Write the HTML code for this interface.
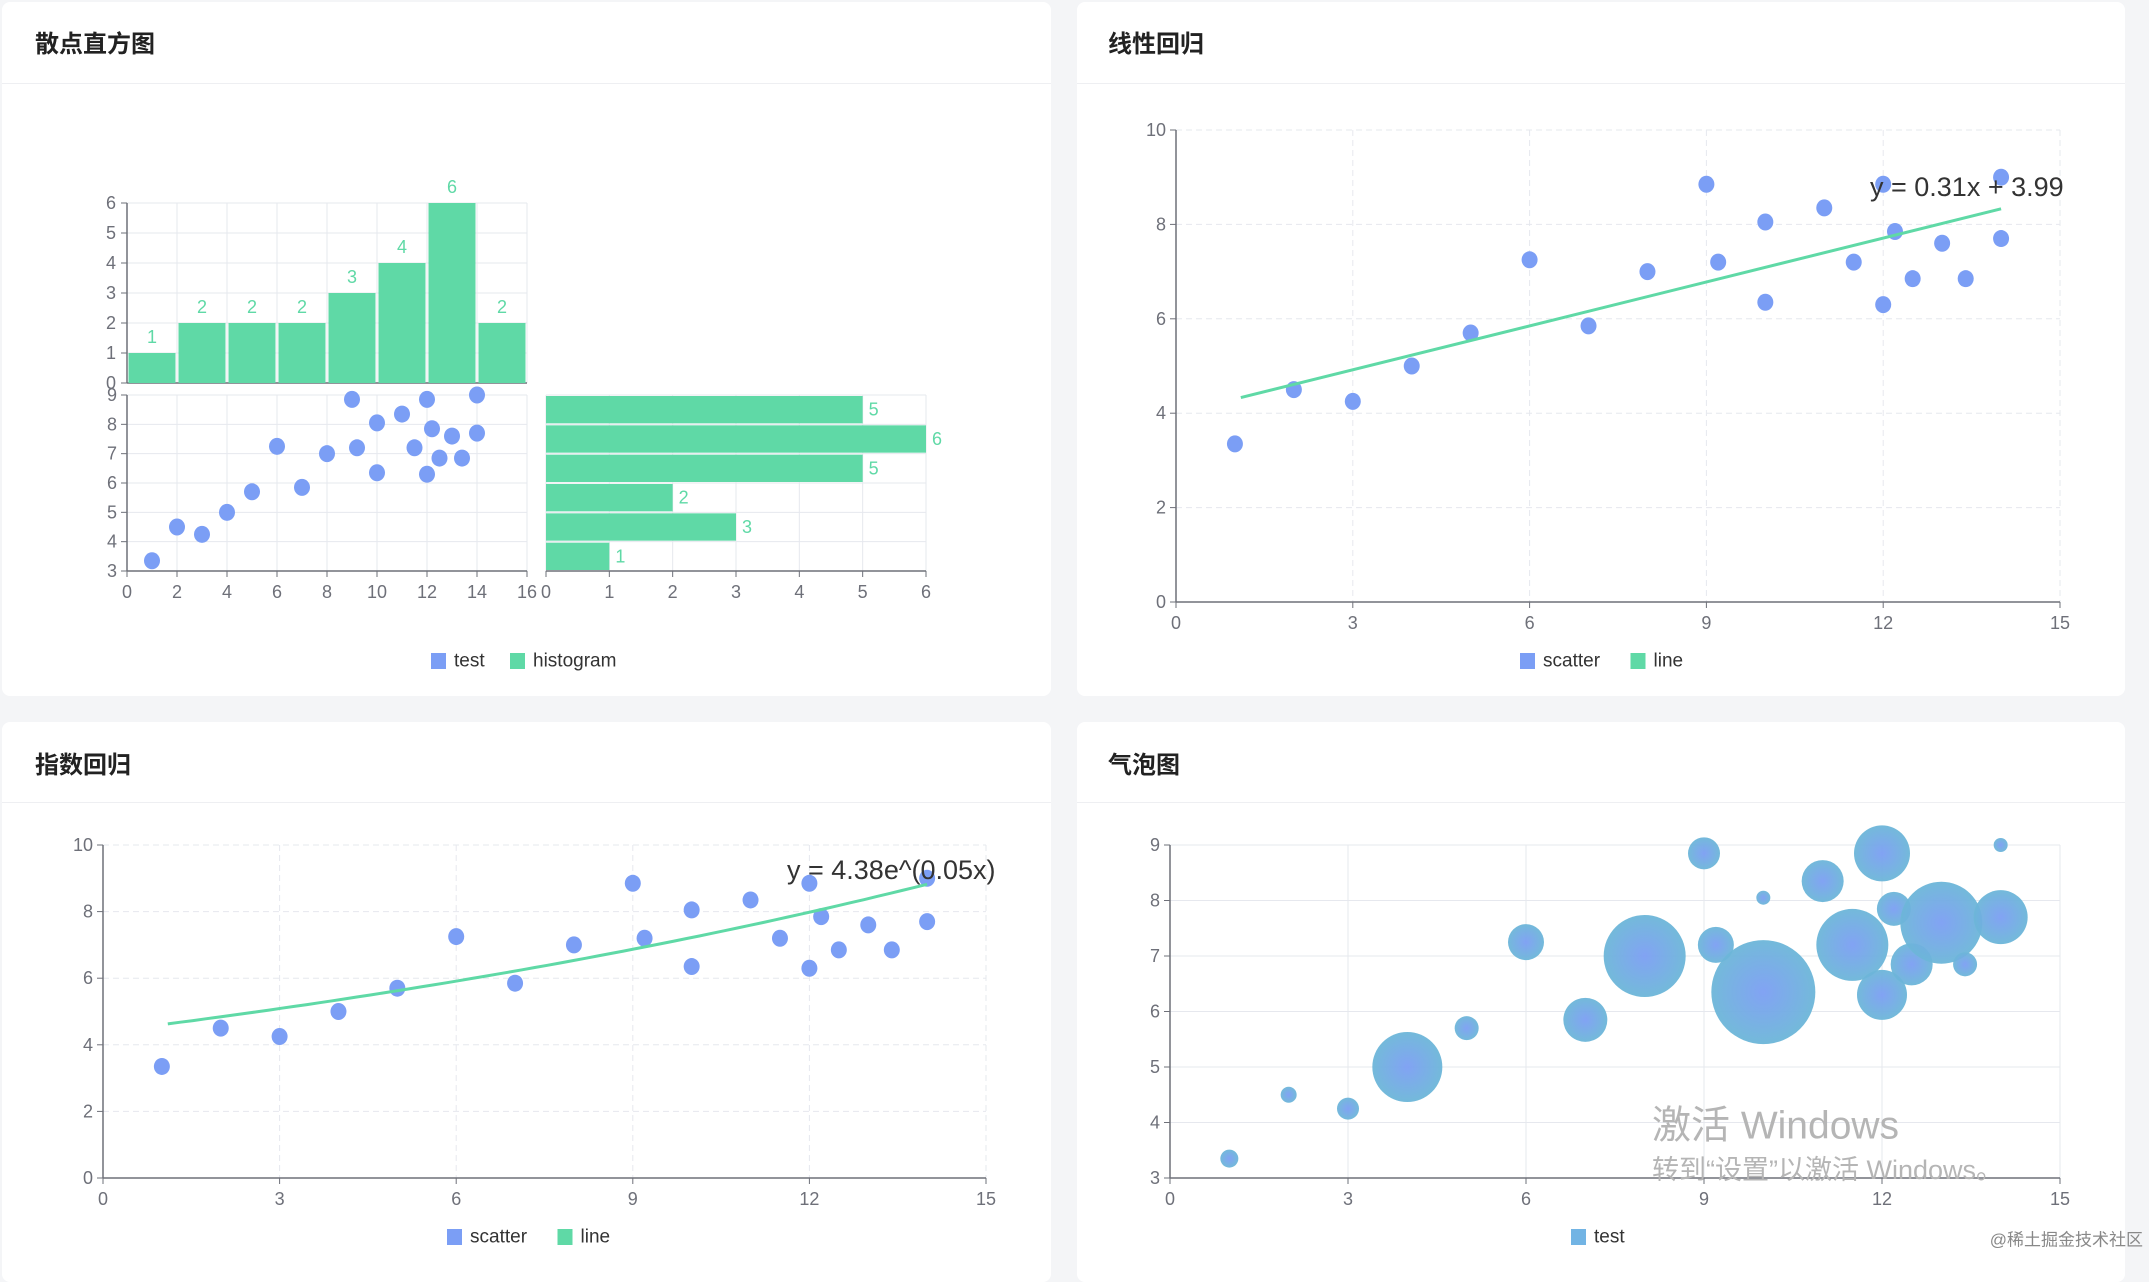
<!DOCTYPE html>
<html><head><meta charset="utf-8">
<style>
html,body{margin:0;padding:0;background:#f4f5f7;}
body{width:2149px;height:1257px;overflow:hidden;position:relative;font-family:"Liberation Sans","Noto Sans CJK SC",sans-serif;}
.card{position:absolute;background:#fff;border-radius:8px;}
.title{position:absolute;left:33px;top:22px;font-size:24px;font-weight:bold;color:#222;}
.div{position:absolute;left:0;right:0;height:1px;background:#eeeff2;}
svg{position:absolute;left:0;top:0;}
</style></head><body>
<div class="card" style="left:2px;top:2px;width:1049px;height:694px;">
 <div class="title">散点直方图</div>
 <div class="div" style="top:81px"></div>
</div>
<div class="card" style="left:1077px;top:2px;width:1048px;height:694px;">
 <div class="title" style="left:31px">线性回归</div>
 <div class="div" style="top:81px"></div>
</div>
<div class="card" style="left:2px;top:722px;width:1049px;height:560px;">
 <div class="title" style="top:23px">指数回归</div>
 <div class="div" style="top:80px"></div>
</div>
<div class="card" style="left:1077px;top:722px;width:1048px;height:560px;">
 <div class="title" style="left:31px;top:23px">气泡图</div>
 <div class="div" style="top:80px"></div>
</div>
<svg id="s" width="2149" height="1257">
<defs>
<radialGradient id="bg"><stop offset="0" stop-color="#7b9ef3"/><stop offset="1" stop-color="#6cb6d8"/></radialGradient>
</defs>
</svg>
<script>
const xsData=[1,2,3,4,5,6,7,8,9,9.2,10,10,11,11.5,12,12.2,12,12.5,13,13.4,14,14];
const ysData=[3.35,4.5,4.25,5,5.7,7.25,5.85,7,8.85,7.2,8.05,6.35,8.35,7.2,8.85,7.85,6.3,6.85,7.6,6.85,9.0,7.7];
const bubbleR=[9,8,11,35,12,18,22,41,16,18,7,52,21,36,28,17,25,21,41,12,7,27];
const histXCounts=[1,2,2,2,3,4,6,2];
const histYCounts=[1,3,2,5,6,5];
const linA=0.31, linB=3.99;
const expA=4.38, expB=0.05;
const BLUE="#7b9ef5", GREEN="#5fd9a6", AX="#6e7079", GRID="#e6e8ee";
const svg=document.getElementById('s');
function el(t,a,txt){const e=document.createElementNS('http://www.w3.org/2000/svg',t);for(const k in a)e.setAttribute(k,a[k]);if(txt!==undefined)e.textContent=txt;svg.appendChild(e);return e;}
function txt(x,y,s,opt){const e=el('text',Object.assign({x:x,y:y,'font-size':18,fill:AX,'text-anchor':'middle','dominant-baseline':'central'},opt||{}),s);return e;}
function lin(d0,d1,r0,r1){return v=>r0+(v-d0)*(r1-r0)/(d1-d0);}
function gridAxes(name,xs,ys,xt,yt,dash,xlabY){
  xt.forEach(v=>{const l=el('line',{x1:xs(v),x2:xs(v),y1:ys.top,y2:ys.bot,stroke:GRID,'stroke-dasharray':dash||''});
    
    el('line',{x1:xs(v),x2:xs(v),y1:ys.bot,y2:ys.bot+6,stroke:AX});
    const t=txt(xs(v),xlabY||ys.bot+22,String(v));});
  yt.forEach(v=>{const y=ys.f(v);const l=el('line',{x1:xs.left,x2:xs.right,y1:y,y2:y,stroke:GRID,'stroke-dasharray':dash||''});
    
    el('line',{x1:xs.left-6,x2:xs.left,y1:y,y2:y,stroke:AX});
    const t=txt(xs.left-10,y,String(v),{'text-anchor':'end'});});
  const a=el('line',{x1:xs.left,x2:xs.right,y1:ys.bot,y2:ys.bot,stroke:AX,'stroke-width':1.5});
  const b=el('line',{x1:xs.left,x2:xs.left,y1:ys.top,y2:ys.bot,stroke:AX,'stroke-width':1.5});
}
function legend(cx,y,items){let x=cx;items.forEach(it=>{const r=el('rect',{x:x,y:y-8,width:15,height:16,fill:it[1]});
  const t=txt(x+23,y,it[0],{'text-anchor':'start','font-size':19,fill:'#333'});x+=23+it[0].length*10.5+14;});}
function dots(xf,yf,name){xsData.forEach((v,i)=>{const c=el('ellipse',{cx:xf(v),cy:yf(ysData[i]),rx:8,ry:8.5,fill:BLUE});});}

// Panel 1
const hx=lin(0,16,127,527), hy=lin(0,6,383,203);
const sy=lin(3,9,571,395), rx=lin(0,6,546,926);
{
 [0,2,4,6,8,10,12,14,16].forEach(v=>{el('line',{x1:hx(v),x2:hx(v),y1:203,y2:383,stroke:GRID});});
 [0,1,2,3,4,5,6].forEach(v=>{el('line',{x1:127,x2:527,y1:hy(v),y2:hy(v),stroke:GRID});el('line',{x1:121,x2:127,y1:hy(v),y2:hy(v),stroke:AX});
   const t=txt(116,hy(v),String(v),{'text-anchor':'end'});});
 el('line',{x1:127,x2:127,y1:203,y2:383,stroke:AX,'stroke-width':1.5});
 el('line',{x1:127,x2:527,y1:383,y2:383,stroke:AX,'stroke-width':1.5});
 histXCounts.forEach((c,i)=>{const x0=hx(i*2)+1.5,x1=hx(i*2+2)-1.5;
   const r=el('rect',{x:x0,y:hy(c),width:x1-x0,height:hy(0)-hy(c),fill:GREEN});
   const t=txt((x0+x1)/2,hy(c)-16,String(c),{fill:GREEN});});
 const f=hx;f.left=127;f.right=527;
 gridAxes('scatter',f,{top:395,bot:571,f:sy},[0,2,4,6,8,10,12,14,16],[3,4,5,6,7,8,9],'',592);
 dots(hx,sy,'scatter-point');
 [0,1,2,3,4,5,6].forEach(v=>{el('line',{x1:rx(v),x2:rx(v),y1:395,y2:571,stroke:GRID});el('line',{x1:rx(v),x2:rx(v),y1:571,y2:577,stroke:AX});
   const t=txt(rx(v),592,String(v));});
 [3,4,5,6,7,8,9].forEach(v=>el('line',{x1:546,x2:926,y1:sy(v),y2:sy(v),stroke:GRID}));
 el('line',{x1:546,x2:926,y1:571,y2:571,stroke:AX,'stroke-width':1.5});
 histYCounts.forEach((c,i)=>{const y0=sy(3+i+1)+1,y1=sy(3+i)-1;
   const r=el('rect',{x:rx(0),y:y0,width:rx(c)-rx(0),height:y1-y0,fill:GREEN});
   const t=txt(rx(c)+6,(y0+y1)/2,String(c),{fill:GREEN,'text-anchor':'start'});});
 legend(431,661,[['test',BLUE],['histogram',GREEN]]);
}
// Panel 2
{const x2=lin(0,15,1176,2060);x2.left=1176;x2.right=2060;const y2=lin(0,10,602,130);
 gridAxes('linear',x2,{top:130,bot:602,f:y2},[0,3,6,9,12,15],[0,2,4,6,8,10],'6,4',623);
 dots(x2,y2,'linear-scatter-point');
 const l=el('line',{x1:x2(1.1),y1:y2(linA*1.1+linB),x2:x2(14),y2:y2(linA*14+linB),stroke:GREEN,'stroke-width':3});
 const t=txt(1870,187,'y = 0.31x + 3.99',{'text-anchor':'start','font-size':27,fill:'#333'});
 legend(1520,661,[['scatter',BLUE],['line',GREEN]]);
}
// Panel 3
{const x3=lin(0,15,103,986);x3.left=103;x3.right=986;const y3=lin(0,10,1178,845);
 gridAxes('exp',x3,{top:845,bot:1178,f:y3},[0,3,6,9,12,15],[0,2,4,6,8,10],'6,4',1199);
 dots(x3,y3,'exp-scatter-point');
 let d='';for(let i=0;i<=60;i++){const v=1.1+(14-1.1)*i/60;d+=(i?'L':'M')+x3(v).toFixed(1)+','+y3(expA*Math.exp(expB*v)).toFixed(1);}
 const p=el('path',{d:d,fill:'none',stroke:GREEN,'stroke-width':3});
 const t=txt(787,870,'y = 4.38e^(0.05x)',{'text-anchor':'start','font-size':27,fill:'#333'});
 legend(447,1237,[['scatter',BLUE],['line',GREEN]]);
}
// Panel 4
{const x4=lin(0,15,1170,2060);x4.left=1170;x4.right=2060;const y4=lin(3,9,1178,845);
 gridAxes('bubble',x4,{top:845,bot:1178,f:y4},[0,3,6,9,12,15],[3,4,5,6,7,8,9],'',1199);
 xsData.forEach((v,i)=>{const c=el('circle',{cx:x4(v),cy:y4(ysData[i]),r:bubbleR[i],fill:'url(#bg)','fill-opacity':0.95});});
 legend(1571,1237,[['test','#72b4e4']]);
 const w1=txt(1652,1126,'激活 Windows',{'text-anchor':'start','font-size':39,fill:'#b5b5b5'});
 const w2=txt(1652,1170,'转到“设置”以激活 Windows。',{'text-anchor':'start','font-size':27,fill:'#b5b5b5'});
 const w3=txt(2143,1240,'@稀土掘金技术社区',{'text-anchor':'end','font-size':17,fill:'#888'});
}
</script>
</body></html>
